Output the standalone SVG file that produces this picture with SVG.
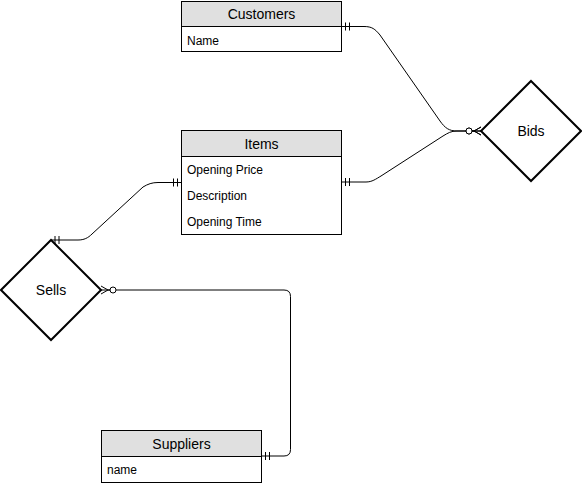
<svg xmlns="http://www.w3.org/2000/svg" width="582" height="486" viewBox="0 0 582 486">
  <style>
    .box { fill: #ffffff; stroke: #000000; stroke-width: 1; }
    .head { fill: #e0e0e0; stroke: #000000; stroke-width: 1; }
    .rel { fill: #ffffff; stroke: #000000; stroke-width: 2; }
    .title { font-family: "Liberation Sans", Arial, Helvetica, sans-serif; font-size: 14px; fill: #000000; text-anchor: middle; }
    .attr { font-family: "Liberation Sans", Arial, Helvetica, sans-serif; font-size: 12px; fill: #000000; }
    .edge { fill: none; stroke: #000000; stroke-width: 1; }
  </style>
  <defs>
    <!-- exactly one: two bars just before the end point -->
    <marker id="mandOne" markerUnits="userSpaceOnUse" markerWidth="20" markerHeight="20" viewBox="-10 -10 20 20" refX="0" refY="0" orient="auto-start-reverse" overflow="visible">
      <path d="M-4 -4 V4 M-8 -4 V4" fill="none" stroke="#000" stroke-width="1"/>
    </marker>
    <!-- zero or many: crow's foot with a ring behind it -->
    <marker id="zeroToMany" markerUnits="userSpaceOnUse" markerWidth="20" markerHeight="20" viewBox="-16 -10 20 20" refX="0" refY="0" orient="auto-start-reverse" overflow="visible">
      <path d="M0 -4 L-7 0 L0 4 M-7 0 H-9" fill="none" stroke="#000" stroke-width="1"/>
      <circle cx="-12" cy="0" r="3" fill="#fff" stroke="#000" stroke-width="1"/>
    </marker>
  </defs>

  <!-- relationship lines -->
  <g id="connectors">
    <path class="edge" d="M341.5 26.5 H364 C372 26.5 375 29 380 35 L440 121 C445 128 449 131 457 131 H481" marker-start="url(#mandOne)" marker-end="url(#zeroToMany)"/>
    <path class="edge" d="M341.5 182 H366 C372 182 376 179 381 176 L443 136 C448 133 451 131 457 131 H481" marker-start="url(#mandOne)" marker-end="url(#zeroToMany)"/>
    <path class="edge" d="M181.5 182.5 H158 C152 182.5 148 184 143 187 L92 234 C88 238 84 240 78 240 H51" marker-start="url(#mandOne)" marker-end="url(#mandOne)"/>
    <path class="edge" d="M101 290 H284 Q290.5 290 290.5 296.5 V449.5 Q290.5 456 284 456 H261.5" marker-start="url(#zeroToMany)" marker-end="url(#mandOne)"/>
  </g>

  <g id="customers">
    <rect class="box" x="181.5" y="1.5" width="160" height="50"/>
    <rect class="head" x="181.5" y="1.5" width="160" height="25"/>
    <text class="title" x="261.5" y="19">Customers</text>
    <text class="attr" x="187" y="45">Name</text>
  </g>

  <g id="items">
    <rect class="box" x="181.5" y="130.5" width="160" height="104"/>
    <rect class="head" x="181.5" y="130.5" width="160" height="26"/>
    <text class="title" x="261.5" y="149">Items</text>
    <text class="attr" x="187" y="174">Opening Price</text>
    <text class="attr" x="187" y="200">Description</text>
    <text class="attr" x="187" y="226">Opening Time</text>
  </g>

  <g id="suppliers">
    <rect class="box" x="101.5" y="430.5" width="160" height="52"/>
    <rect class="head" x="101.5" y="430.5" width="160" height="26"/>
    <text class="title" x="181.5" y="449">Suppliers</text>
    <text class="attr" x="107" y="474">name</text>
  </g>

  <g id="bids">
    <polygon class="rel" points="531,81 581,131 531,181 481,131"/>
    <text class="title" x="531" y="136">Bids</text>
  </g>

  <g id="sells">
    <polygon class="rel" points="51,240 101,290 51,340 1,290"/>
    <text class="title" x="51" y="295">Sells</text>
  </g>
</svg>
